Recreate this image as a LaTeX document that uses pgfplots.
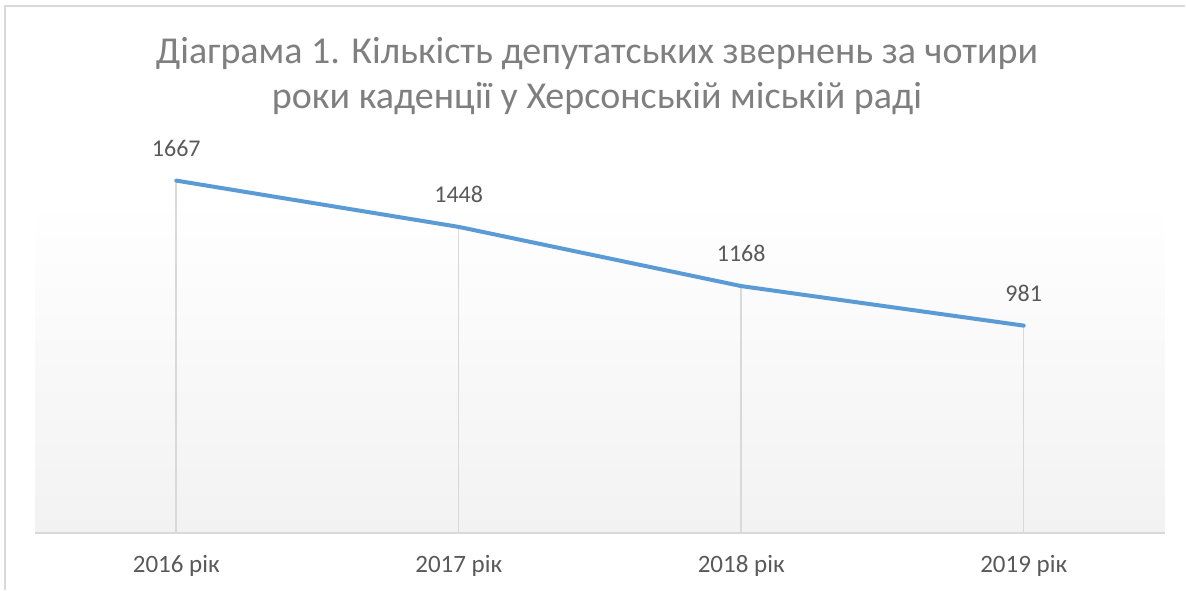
\documentclass[border=0pt]{standalone}
\usepackage{fontspec}
\setmainfont{Carlito}
\usepackage{pgfplots}
\pgfplotsset{compat=1.18}
\definecolor{lineblue}{HTML}{5B9BD5}
\definecolor{gridgray}{HTML}{D9D9D9}
\definecolor{titlegray}{HTML}{7F7F7F}
\definecolor{labelgray}{HTML}{595959}
\definecolor{bggray}{HTML}{F2F2F2}
\begin{document}
\begin{tikzpicture}[x=1pt,y=1pt]
\path (0,0) rectangle (1186,590);
\draw[color=gridgray, line width=1.5pt] (5,0) -- (5,584) -- (1185.25,584);
\node[align=center, font=\fontsize{38}{45}\selectfont, text=titlegray, inner sep=0pt, anchor=base] at (597,481) {Діаграма 1. Кількість депутатських звернень за чотири\\роки каденції у Херсонській міській раді};
\begin{axis}[
  at={(35pt,57pt)}, anchor=south west,
  scale only axis, width=1130pt, height=334pt,
  xmin=-0.5, xmax=3.5, ymin=0, ymax=1580,
  clip=false, axis on top,
  axis y line=none, axis x line*=bottom,
  x axis line style={color=gridgray, line width=1.3pt, -},
  xtick={0,1,2,3},
  xticklabels={2016 рік,2017 рік,2018 рік,2019 рік},
  major tick length=0pt,
  xticklabel style={font=\fontsize{25}{29}\selectfont, text=labelgray, inner sep=0pt, yshift=-22pt},
]
\fill[top color=white, bottom color=bggray] (axis cs:-0.5,0) rectangle (axis cs:3.5,1580);
\addplot[ycomb, color=gridgray, line width=1.5pt, mark=none] coordinates {(0,1667) (1,1448) (2,1168) (3,981)};
\addplot[color=lineblue, line width=4pt, mark=none, line cap=round, line join=round,
  point meta=explicit symbolic,
  nodes near coords,
  nodes near coords style={font=\fontsize{24}{28}\selectfont, text=labelgray, inner sep=0pt, anchor=south, yshift=22pt}]
  coordinates {(0,1667) [1667] (1,1448) [1448] (2,1168) [1168] (3,981) [981]};
\end{axis}
\end{tikzpicture}
\end{document}
